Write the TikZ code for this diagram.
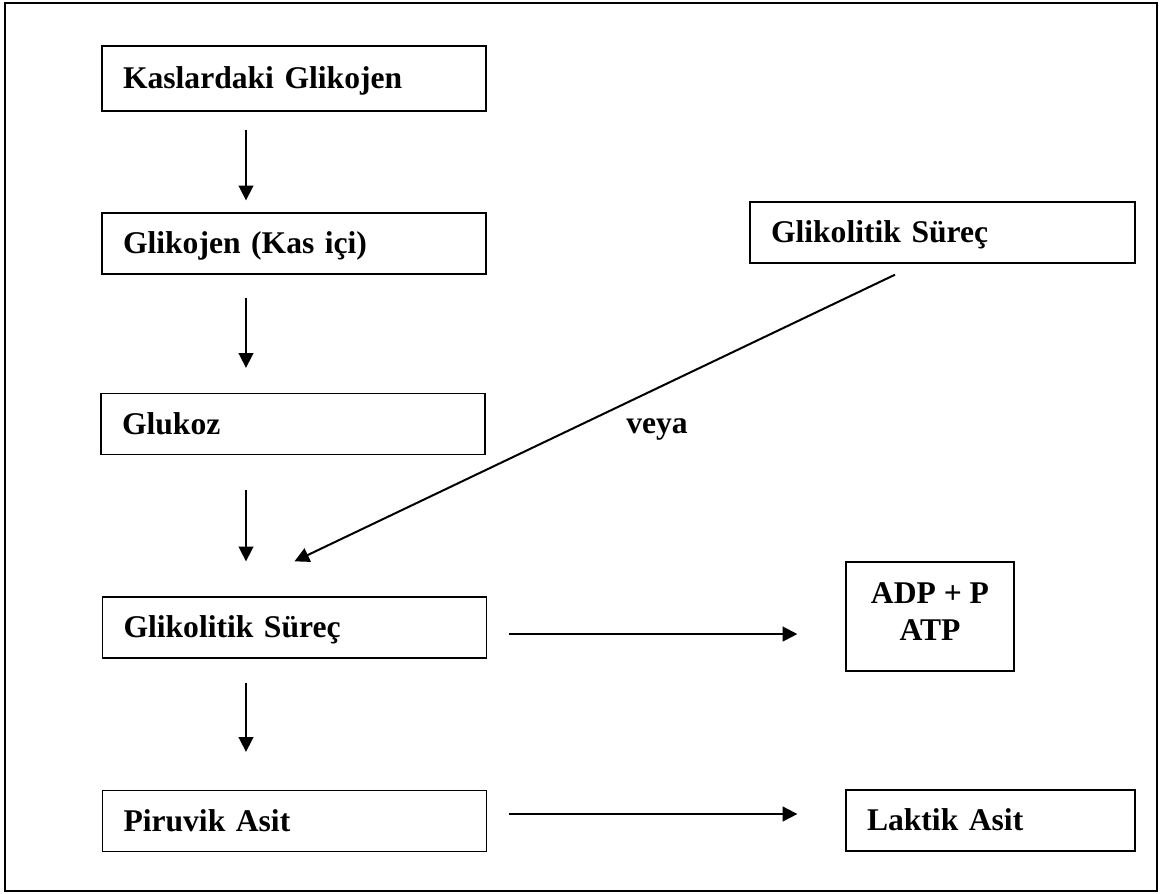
\documentclass[tikz,border=0pt]{standalone}
\usepackage{fontspec}
\setmainfont{Liberation Serif}
\usetikzlibrary{arrows.meta,calc}

\tikzset{
  kutu/.style={draw, line width=1pt, minimum height=45.75pt, inner xsep=15.75pt, inner ysep=0pt,
    text height=16pt, text depth=1pt, align=left, font=\bfseries\fontsize{23.7}{27.75}\selectfont},
  yazi/.style={font=\bfseries\fontsize{23.7}{27.75}\selectfont},
  ok/.style={-{Triangle[length=11pt,width=11pt]}, line width=1.25pt},
}

\begin{document}
\begin{tikzpicture}[x=0.75pt,y=0.75pt,yscale=-1,xscale=1]
\useasboundingbox (0,0) rectangle (1162,893);
%Frame
\draw[line width=1pt] (5,3) rectangle (1157,891);
% Left column
\node[kutu, text width=256.5pt, minimum height=48.75pt] (kas) at (294,78.5) {Kaslardaki Glikojen};
\node[kutu, text width=256.5pt] (glik) at (294,243.5) {Glikojen (Kas içi)};
\node[kutu, text width=256.5pt] (glukoz) at (293,424) {Glukoz};
\node[kutu, text width=256.5pt] (gsurec) at (294.5,627.5) {Glikolitik Süreç};
\node[kutu, text width=256.5pt] (piruvik) at (294.5,821) {Piruvik Asit};
% Right column
\node[kutu, text width=257.25pt] (gsurec2) at (942.5,232.5) {Glikolitik Süreç};
\node[draw, line width=1pt, yazi, align=center, minimum width=126pt, minimum height=81.75pt,
  inner sep=0pt, text height=35.25pt, text depth=0pt] (adp) at (930,616.5) {ADP + P\\ATP};
\node[kutu, text width=185.25pt] (laktik) at (990.5,820.5) {Laktik Asit};
% Text Node
\node[yazi] (veya) at (657,429) {veya};
%Arrows
\coordinate (ax) at (246,0);
\draw[ok, shorten <=13.5pt, shorten >=9pt] (kas.south -| ax) -- (glik.north -| ax);
\draw[ok, shorten <=17.25pt, shorten >=18.75pt] (glik.south -| ax) -- (glukoz.north -| ax);
\draw[ok, shorten <=26.25pt, shorten >=26.25pt] (glukoz.south -| ax) -- (gsurec.north -| ax);
\draw[ok, shorten <=18pt, shorten >=28.5pt] (gsurec.south -| ax) -- (piruvik.north -| ax);
\draw[ok, line width=1.5pt] ([xshift=-35.6pt,yshift=8.25pt]gsurec2.south) -- ([yshift=-26.25pt]gsurec.north);
\draw[ok, line width=1.5pt, shorten <=16.5pt, shorten >=36pt] ([yshift=4.9pt]gsurec.east) -- ([yshift=4.9pt]gsurec.east -| adp.west);
\draw[ok, line width=1.5pt, shorten <=16.5pt, shorten >=36pt] ([yshift=-5.25pt]piruvik.east) -- ([yshift=-5.25pt]piruvik.east -| laktik.west);
\end{tikzpicture}
\end{document}
